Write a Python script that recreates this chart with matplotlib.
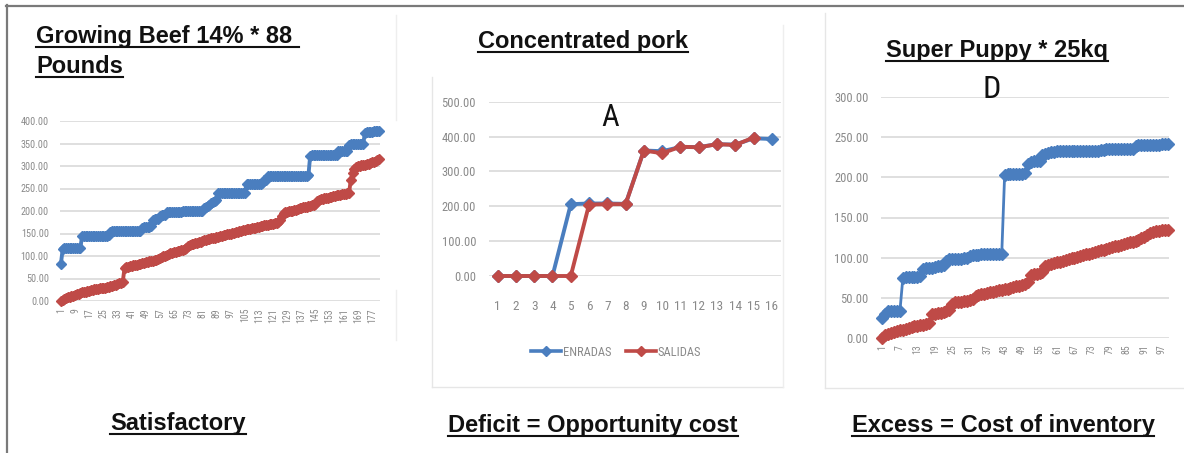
import matplotlib
matplotlib.use("Agg")
import matplotlib.pyplot as plt
from matplotlib import font_manager
from matplotlib.lines import Line2D

W, H = 1184, 453

# ---------------- data ----------------
beef_entries = [
    82,
    115, 117, 117, 117, 117, 117, 117, 117, 117, 117, 118,
    144, 145, 145, 145, 145, 145, 145, 145, 145, 145, 145, 145, 145, 145, 145, 146,
    154, 155, 155, 155, 155, 155, 155, 155, 155, 155, 155, 155, 155, 155, 155, 155, 155, 156,
    163, 165, 165, 165, 165, 166,
    180, 182, 182, 183,
    189, 191, 191, 192,
    197, 198, 198, 198, 198, 198, 198, 198, 198, 199,
    200, 200, 200, 200, 200, 200, 200, 200, 200, 200, 200,
    207, 210, 212, 214,
    218, 221, 223, 225,
    241, 241, 241, 241, 241, 241, 241, 241, 241, 241, 241, 241, 241, 241, 241, 241,
    259, 261, 261, 261, 261, 261, 261, 261, 261, 262,
    268, 270,
    277, 278, 278, 278, 278, 278, 278, 278, 278, 278, 278, 278,
    278, 278, 278, 278, 278, 278, 278, 278, 278, 278, 278, 279,
    322, 324, 324, 324, 324, 324, 324, 324, 324, 324, 324, 324, 324, 324, 324, 325,
    333, 333, 333, 333, 333, 334,
    347, 348, 348, 348, 348, 348, 348, 348, 349,
    374, 375, 375, 376, 376, 377, 377, 378, 378,
]
beef_exits = [
    0, 2, 4, 6, 8, 9, 11, 12, 14, 15,
    16, 18, 19, 20, 21, 22, 23, 24, 25, 26,
    26, 27, 28, 29, 29, 30, 31, 32, 33, 34,
    35, 36, 38, 39, 41, 43,
    73, 75, 76, 77, 78, 79, 80, 81, 82, 83,
    84, 85, 86, 87, 88, 89, 90, 91, 92, 93,
    95, 97, 99, 101, 103, 104, 106, 107, 108, 110,
    111, 112, 113, 114, 116, 118,
    122, 124, 126, 127, 128, 130, 131, 132, 134, 135,
    136, 137, 138, 139, 140, 141, 142, 143, 144, 145,
    146, 147, 148, 149, 150, 151, 152, 153, 154, 155,
    156, 157, 158, 159, 160, 161, 162, 162, 163, 164,
    165, 166, 167, 168, 169, 170, 171, 172, 172, 173,
    174, 176, 180, 188,
    195, 197, 198, 199, 200, 201, 202, 203, 204, 206,
    207, 208, 209, 210, 211, 212, 213, 214, 216,
    222, 224, 226, 227, 228, 229, 230, 231, 232, 233,
    234, 235, 235, 236, 237, 237, 238, 239, 240,
    270, 285, 294, 298, 300, 301,
    302, 302, 303, 304, 305, 306, 308, 310, 312, 314, 316,
]

pork_days = list(range(1, 17))
pork_entradas = [0, 0, 0, 0, 206, 208, 208, 207, 360, 358, 370, 370, 378, 377, 395, 393]
pork_salidas = [0, 0, 0, 0, 0, 205, 206, 206, 360, 352, 371, 369, 378, 376, 397, None]

puppy_entries = [
    24,
    30, 33, 33, 33, 33, 33,
    74, 76, 76, 76, 76, 76, 77,
    86, 87, 87, 87, 88, 89, 90, 91,
    96, 98, 98, 98, 98, 98, 99, 99,
    102, 103, 103, 103, 104, 104, 104, 104, 104, 104, 104, 104,
    203, 204, 204, 204, 204, 204, 204, 205,
    217, 219, 220, 220, 221,
    228, 229, 231,
    232, 232, 233, 233, 233, 233, 233, 233, 233, 233, 233, 233, 233, 233, 233, 233, 233,
    234, 234, 235, 235, 235, 235, 235, 235, 235, 235, 235, 236,
    239, 240, 240, 240, 240, 240, 240,
    241, 241, 242, 242, 242,
]
puppy_exits = [
    0, 3, 5, 6, 7, 8, 9, 10, 11, 12,
    13, 14, 15, 16, 16, 17, 18,
    29, 30, 31, 31, 32, 33, 34,
    42, 44, 45, 45, 46, 46, 47, 48,
    52, 53, 54, 55, 56, 57, 57, 58, 59, 60,
    61, 61, 62, 63, 64, 65, 66, 67, 69,
    78, 79, 80, 81, 82,
    90, 91, 92, 93, 94, 95, 96, 97, 98, 99,
    100, 101, 102, 103, 104, 105, 106, 107, 108, 109,
    110, 111, 112, 113, 114, 115, 116, 117, 118, 119,
    120, 121, 122, 124, 126, 128, 131,
    132, 133, 133, 134, 135, 135,
]

titles = ["Growing Beef 14% * 88 ", "Pounds", "Concentrated pork", "Super Puppy * 25kq"]
captions = ["Satisfactory", "Deficit = Opportunity cost", "Excess = Cost of inventory"]
legend_labels = ["ENRADAS", "SALIDAS"]

BLUE = "#4A7EBF"
RED = "#BF4A47"
GRID = "#DCDCDC"
TICK = "#8A8A8A"


def pick(names):
    avail = {f.name for f in font_manager.fontManager.ttflist}
    for n in names:
        if n in avail:
            return n
    return "DejaVu Sans"


BOLD = pick(["Liberation Sans", "Arial"])
NARROW = pick(["Liberation Sans Narrow", "DejaVu Sans Condensed", "Roboto Condensed", "Liberation Sans"])


def fx(x):
    return x / W


def fy(y):
    return 1 - y / H


fig = plt.figure(figsize=(W / 100, H / 100), dpi=100)
fig.patch.set_facecolor("white")


def make_axes(x0, x1, y_top, y_bot):
    ax = fig.add_axes([fx(x0), fy(y_bot), (x1 - x0) / W, (y_bot - y_top) / H])
    ax.set_facecolor("none")
    for s in ax.spines.values():
        s.set_visible(False)
    ax.grid(axis="y", color=GRID, linewidth=1.3)
    ax.set_axisbelow(True)
    ax.tick_params(length=0, colors=TICK)
    return ax


def fmt_y(ax, ticks, size, pad):
    ax.set_yticks(ticks)
    ax.set_yticklabels([f"{t:.2f}" for t in ticks], fontsize=size, family=NARROW, color=TICK)
    ax.tick_params(axis="y", pad=pad)


# ---------- chart 1: growing beef ----------
n1 = len(beef_entries)
ax1 = make_axes(60, 380, 121, 301)
x1 = list(range(1, n1 + 1))
for ys, c in ((beef_entries, BLUE), (beef_exits, RED)):
    ax1.plot(x1, ys, color=c, lw=2.8, marker="D", ms=5.2, mec=c, clip_on=False)
ax1.set_xlim(0.5, n1 + 0.5)
ax1.set_ylim(0, 400)
fmt_y(ax1, list(range(0, 401, 50)), 7.3, 8)
t1 = list(range(1, n1 + 1, 8))
ax1.set_xticks(t1)
ax1.set_xticklabels([str(t) for t in t1], rotation=90, fontsize=7, family=NARROW, color=TICK, va="top")
ax1.tick_params(axis="x", pad=5)

# ---------- chart 2: concentrated pork ----------
ax2 = make_axes(488.5, 781, 101.7, 276)
ax2.plot(pork_days, pork_entradas, color=BLUE, lw=2.8, marker="D", ms=6, clip_on=False)
ax2.plot(pork_days, [v if v is not None else float("nan") for v in pork_salidas],
         color=RED, lw=2.8, marker="D", ms=6, clip_on=False)
ax2.set_xlim(0.5, 16.5)
ax2.set_ylim(0, 500)
fmt_y(ax2, list(range(0, 501, 100)), 9, 9)
ax2.set_xticks(pork_days)
ax2.set_xticklabels([str(d) for d in pork_days], fontsize=9.5, family=NARROW, color=TICK)
ax2.tick_params(axis="x", pad=17)
fig.text(fx(610), fy(118), "A", ha="center", va="center",
         fontsize=22, family=NARROW, color="#111")
handles = [Line2D([], [], color=BLUE, lw=2.6, marker="D", ms=5),
           Line2D([], [], color=RED, lw=2.6, marker="D", ms=5)]
fig.legend(handles, legend_labels, loc="center", bbox_to_anchor=(fx(616), fy(352)), ncol=2,
           frameon=False, prop={"family": NARROW, "size": 9}, labelcolor=TICK,
           handlelength=2.4, handletextpad=0.1, columnspacing=1.2)

# ---------- chart 3: super puppy ----------
n3 = len(puppy_entries)
ax3 = make_axes(881, 1169, 97.3, 337.7)
x3 = list(range(1, n3 + 1))
for ys, c in ((puppy_entries, BLUE), (puppy_exits, RED)):
    ax3.plot(x3, ys, color=c, lw=2.0, marker="D", ms=6.2, mec=c, clip_on=False)
ax3.set_xlim(0.5, n3 + 0.5)
ax3.set_ylim(0, 300)
fmt_y(ax3, list(range(0, 301, 50)), 9, 9)
t3 = list(range(1, n3 + 1, 6))
ax3.set_xticks(t3)
ax3.set_xticklabels([str(t) for t in t3], rotation=90, fontsize=7, family=NARROW, color=TICK, va="top")
ax3.tick_params(axis="x", pad=5)
fig.text(fx(992), fy(90), "D", ha="center", va="center",
         fontsize=23, family=NARROW, color="#111")

# ---------- frames ----------
def fline(xs, ys, color, lw):
    fig.add_artist(Line2D([fx(x) for x in xs], [fy(y) for y in ys], color=color, lw=lw,
                          transform=fig.transFigure))


fline([7, 7], [5, 453], "#7A7A7A", 1.6)
fline([6, W], [6, 6], "#7A7A7A", 1.6)
fline([432, 432], [77, 387], "#E6E6E6", 1.0)
fline([432, 783], [387, 387], "#E6E6E6", 1.0)
fline([783, 783], [25, 387], "#EEEEEE", 1.0)
fline([825, 825], [13, 388], "#E6E6E6", 1.0)
fline([825, W], [388, 388], "#E6E6E6", 1.0)
fline([396, 396], [15, 120], "#EEEEEE", 1.0)
fline([396, 396], [290, 340], "#EEEEEE", 1.0)

# ---------- underlined headings ----------
heads = []


def heading(x, y, s, ha):
    t = fig.text(fx(x), fy(y), s, ha=ha, va="baseline", fontsize=17, fontweight="bold",
                 family=BOLD, color="#111111")
    heads.append((t, y))


heading(36, 43, titles[0], "left")
heading(36, 73, titles[1], "left")
heading(583, 48, titles[2], "center")
heading(997, 57, titles[3], "center")
heading(178, 430, captions[0], "center")
heading(593, 432, captions[1], "center")
heading(1003, 432, captions[2], "center")

fig.canvas.draw()
renderer = fig.canvas.get_renderer()
for t, y in heads:
    bb = t.get_window_extent(renderer)
    fline([bb.x0, bb.x1], [y + 3.5, y + 3.5], "#111111", 1.5)

fig.savefig("out.png", dpi=100, facecolor="white")
